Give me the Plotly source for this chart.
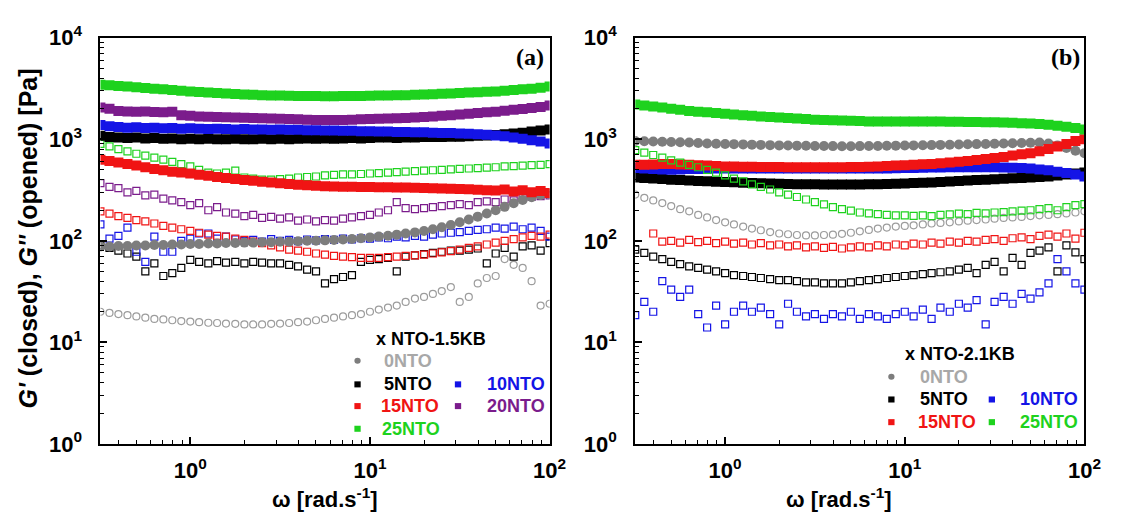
import plotly.graph_objects as go

W, H = 1130, 523

# angular frequency sweep [rad/s]
omega = [0.316, 0.355, 0.398, 0.447, 0.501, 0.562, 0.631, 0.708, 0.794, 0.891,
         1.00, 1.12, 1.26, 1.41, 1.58, 1.78, 2.00, 2.24, 2.51, 2.82,
         3.16, 3.55, 3.98, 4.47, 5.01, 5.62, 6.31, 7.08, 7.94, 8.91,
         10.0, 11.2, 12.6, 14.1, 15.8, 17.8, 20.0, 22.4, 25.1, 28.2,
         31.6, 35.5, 39.8, 44.7, 50.1, 56.2, 63.1, 70.8, 79.4, 89.1,
         100.0]

# ---- (a) x NTO-1.5KB : storage modulus G' [Pa] ----
a_gp_0 = [88, 88, 89, 89, 90, 90, 91, 91, 92, 92,
          93, 93, 94, 94, 95, 95, 96, 96, 97, 97,
          98, 98, 99, 100, 100, 101, 102, 103, 104, 106,
          108, 110, 112, 115, 118, 121, 125, 130, 136, 143,
          152, 162, 173, 186, 200, 216, 234, 252, 268, 282,
          290]
a_gp_5 = [1080, 1050, 1040, 1030, 1040, 1020, 1030, 1010, 1020, 1000,
          1010, 1000, 1010, 1000, 1000, 1010, 1000, 1000, 1010, 1000,
          1010, 1000, 1010, 1020, 1010, 1020, 1010, 1020, 1030, 1020,
          1030, 1040, 1040, 1030, 1040, 1040, 1050, 1050, 1050, 1060,
          1060, 1070, 1080, 1090, 1100, 1120, 1140, 1160, 1190, 1220,
          1250]
a_gp_10 = [1380, 1340, 1320, 1300, 1310, 1290, 1300, 1280, 1290, 1270,
           1280, 1270, 1260, 1270, 1260, 1250, 1260, 1250, 1250, 1240,
           1250, 1240, 1240, 1230, 1230, 1220, 1220, 1210, 1210, 1200,
           1200, 1190, 1190, 1180, 1180, 1170, 1170, 1160, 1150, 1150,
           1140, 1130, 1120, 1110, 1090, 1070, 1040, 1010, 980, 950,
           910]
a_gp_15 = [630, 610, 590, 570, 550, 530, 510, 495, 480, 470,
           460, 448, 436, 425, 415, 405, 398, 390, 382, 375,
           368, 362, 357, 352, 348, 345, 343, 341, 340, 339,
           338, 337, 336, 335, 334, 333, 332, 330, 328, 326,
           324, 322, 318, 315, 312, 320, 305, 315, 300, 310,
           295]
a_gp_20 = [2050, 2000, 1900, 1880, 1870, 1880, 1860, 1850, 1870, 1720,
           1700, 1680, 1670, 1660, 1650, 1640, 1630, 1620, 1610, 1600,
           1590, 1580, 1570, 1560, 1550, 1550, 1550, 1550, 1560, 1570,
           1580, 1590, 1600, 1610, 1620, 1640, 1660, 1680, 1700, 1720,
           1750, 1780, 1810, 1840, 1870, 1910, 1950, 1990, 2030, 2080,
           2150]
a_gp_25 = [3450, 3400, 3350, 3300, 3250, 3200, 3150, 3100, 3050, 3000,
           2960, 2920, 2880, 2850, 2820, 2790, 2760, 2740, 2720, 2700,
           2690, 2680, 2670, 2660, 2660, 2650, 2650, 2660, 2660, 2670,
           2680, 2690, 2700, 2710, 2720, 2740, 2760, 2780, 2800, 2820,
           2850, 2880, 2900, 2930, 2960, 3000, 3050, 3100, 3150, 3220,
           3300]

# ---- (a) x NTO-1.5KB : loss modulus G'' [Pa] ----
a_gpp_0 = [20, 19.5, 19, 18.5, 18, 17.5, 17, 16.8, 16.5, 16.2,
           16, 15.8, 15.6, 15.5, 15.3, 15.2, 15.0, 15.0, 15.0, 15.2,
           15.3, 15.5, 15.8, 16, 16.5, 17, 17.5, 18, 18.5, 19,
           20, 21, 22, 23, 25, 27, 28, 30, 32, 35,
           25, 28, 38, 43, 45, 66, 58, 54, 40, 23,
           24]
a_gpp_5 = [90, 85, 80, 75, 70, 50, 60, 45, 48, 54,
           65, 62, 60, 63, 61, 62, 60, 62, 61, 60,
           60, 58, 56, 52, 50, 38, 42, 44, 46, 62,
           65, 66, 68, 50, 70, 72, 74, 76, 78, 80,
           80, 82, 84, 60, 75, 85, 70, 88, 90, 80,
           95]
a_gpp_10 = [145, 105, 112, 135, 78, 62, 110, 78, 78, 100,
            105, 118, 118, 105, 110, 103, 100, 102, 98, 104,
            100, 102, 99, 103, 101, 104, 102, 105, 103, 106,
            105, 108, 106, 110, 108, 112, 110, 115, 118, 120,
            122, 125, 128, 130, 135, 132, 138, 130, 135, 125,
            110]
a_gpp_15 = [195, 185, 175, 168, 160, 155, 148, 140, 135, 130,
            125, 120, 115, 112, 110, 105, 102, 98, 95, 90,
            86, 82, 80, 78, 75, 73, 71, 70, 69, 68,
            68, 68, 69, 70, 71, 72, 73, 75, 77, 79,
            82, 85, 88, 92, 96, 100, 104, 108, 112, 110,
            115]
a_gpp_20 = [370, 340, 330, 300, 310, 280, 285, 260, 250, 240,
            225, 235, 200, 215, 190, 185, 175, 180, 168, 172,
            165, 170, 158, 162, 155, 160, 158, 165, 170, 175,
            180, 190, 200, 240, 210, 205, 210, 215, 220, 225,
            230, 225, 240, 245, 240, 255, 250, 265, 270, 275,
            280]
a_gpp_25 = [900, 850, 800, 760, 720, 690, 660, 630, 600, 570,
            540, 500, 470, 460, 470, 490, 420, 410, 400, 400,
            405, 410, 420, 425, 430, 440, 445, 450, 450, 455,
            460, 465, 470, 475, 480, 485, 490, 495, 500, 505,
            510, 515, 520, 525, 530, 540, 545, 550, 555, 560,
            570]

# ---- (b) x NTO-2.1KB : storage modulus G' [Pa] ----
b_gp_0 = [960, 955, 950, 945, 940, 935, 930, 920, 910, 905,
          900, 895, 890, 885, 880, 875, 870, 868, 865, 862,
          860, 858, 856, 855, 855, 856, 858, 860, 862, 865,
          868, 870, 873, 876, 880, 884, 888, 892, 896, 900,
          905, 910, 915, 920, 925, 930, 910, 870, 820, 770,
          730]
b_gp_5 = [420, 415, 410, 405, 400, 396, 392, 388, 385, 382,
          380, 377, 374, 371, 368, 366, 364, 362, 361, 360,
          360, 359, 359, 358, 358, 359, 360, 361, 363, 365,
          367, 370, 373, 376, 380, 384, 388, 392, 396, 400,
          404, 408, 412, 416, 420, 425, 430, 440, 450, 460,
          470]
b_gp_10 = [520, 515, 510, 505, 500, 505, 510, 510, 515, 515,
           515, 515, 515, 515, 515, 515, 515, 515, 515, 515,
           515, 515, 515, 515, 515, 515, 515, 515, 515, 518,
           520, 522, 524, 526, 528, 530, 530, 530, 530, 530,
           530, 528, 525, 520, 515, 505, 495, 480, 465, 450,
           430]
b_gp_15 = [560, 560, 565, 570, 570, 565, 560, 555, 550, 545,
           540, 538, 536, 535, 534, 533, 532, 531, 530, 530,
           530, 530, 530, 531, 532, 534, 536, 540, 545, 550,
           555, 560, 566, 572, 580, 590, 600, 612, 625, 640,
           655, 670, 690, 710, 730, 760, 800, 850, 900, 960,
           1000]
b_gp_25 = [2200, 2150, 2100, 2050, 2000, 1950, 1900, 1870, 1840, 1810,
           1780, 1750, 1720, 1700, 1680, 1660, 1640, 1620, 1600, 1580,
           1560, 1550, 1540, 1530, 1520, 1510, 1500, 1500, 1500, 1500,
           1500, 1500, 1500, 1500, 1500, 1490, 1490, 1480, 1480, 1470,
           1470, 1460, 1450, 1440, 1430, 1410, 1390, 1360, 1330, 1290,
           1250]

# ---- (b) x NTO-2.1KB : loss modulus G'' [Pa] ----
b_gpp_0 = [285, 265, 250, 235, 220, 205, 195, 180, 170, 160,
           152, 145, 138, 132, 127, 122, 118, 116, 114, 113,
           113, 114, 115, 117, 120, 124, 128, 132, 135, 138,
           140, 142, 145, 148, 150, 152, 155, 158, 160, 162,
           165, 168, 170, 172, 175, 178, 180, 183, 186, 190,
           195]
b_gpp_5 = [82, 76, 70, 66, 62, 59, 56, 54, 52, 50,
           48, 46, 45, 44, 43, 42, 41, 41, 40, 39,
           39, 38, 38, 38, 39, 40, 41, 42, 43, 44,
           45, 46, 47, 48, 49, 50, 52, 54, 48, 58,
           62, 50, 68, 58, 76, 80, 86, 50, 90, 77,
           66]
b_gpp_10 = [18.5, 25, 20, 40, 33, 28, 33, 19, 14, 23,
            15, 20, 23, 20, 22, 19, 15, 24, 20, 18,
            19, 17, 19, 18, 20, 17, 19, 18, 17, 19,
            20, 18, 21, 17, 22, 20, 24, 22, 26, 15,
            25, 28, 24, 30, 27, 31, 38, 66, 50, 38,
            33]
b_gpp_15 = [None, None, 118, 98, 100, 96, 102, 97, 100, 95,
            98, 94, 96, 92, 95, 90, 92, 88, 90, 86,
            88, 85, 87, 84, 86, 88, 86, 90, 88, 92,
            90, 94, 92, 96, 94, 98, 96, 100, 98, 102,
            104, 100, 106, 108, 104, 112, 115, 110, 118, 105,
            120]
b_gpp_25 = [780, 740, 700, 660, 620, 590, 560, 530, 500, 470,
            440, 410, 385, 360, 340, 320, 300, 285, 270, 255,
            240, 228, 215, 205, 198, 190, 186, 183, 180, 178,
            178, 176, 178, 175, 180, 182, 185, 183, 188, 186,
            190, 192, 195, 198, 200, 205, 210, 200, 215, 225,
            230]

# sample colours
C_GREY = "#7d7d7d"
C_GREY_OPEN = "#9c9c9c"
C_BLACK = "#000000"
C_BLUE = "#1414e6"
C_RED = "#f01414"
C_PURPLE = "#7b1c8c"
C_GREEN = "#1ed21e"

FONT = "Liberation Sans, Arial, sans-serif"

fig = go.Figure()


def add_series(xa, ya, y, color, filled, circle=False):
    if filled:
        marker = dict(symbol="circle" if circle else "square", size=10,
                      color=color, line=dict(width=0))
    else:
        marker = dict(symbol="circle-open" if circle else "square-open", size=7,
                      color=color, line=dict(width=1.2, color=color))
    fig.add_trace(go.Scatter(x=omega, y=y, mode="markers", marker=marker,
                             xaxis=xa, yaxis=ya, showlegend=False, hoverinfo="skip"))


# panel (a): loss moduli first, storage moduli on top
add_series("x", "y", a_gpp_0, C_GREY_OPEN, False, circle=True)
add_series("x", "y", a_gpp_5, C_BLACK, False)
add_series("x", "y", a_gpp_10, C_BLUE, False)
add_series("x", "y", a_gpp_15, C_RED, False)
add_series("x", "y", a_gpp_20, C_PURPLE, False)
add_series("x", "y", a_gpp_25, C_GREEN, False)
add_series("x", "y", a_gp_0, C_GREY, True, circle=True)
add_series("x", "y", a_gp_5, C_BLACK, True)
add_series("x", "y", a_gp_10, C_BLUE, True)
add_series("x", "y", a_gp_15, C_RED, True)
add_series("x", "y", a_gp_20, C_PURPLE, True)
add_series("x", "y", a_gp_25, C_GREEN, True)

# panel (b): storage moduli first, loss moduli on top
add_series("x2", "y2", b_gp_0, C_GREY, True, circle=True)
add_series("x2", "y2", b_gp_5, C_BLACK, True)
add_series("x2", "y2", b_gp_10, C_BLUE, True)
add_series("x2", "y2", b_gp_15, C_RED, True)
add_series("x2", "y2", b_gp_25, C_GREEN, True)
add_series("x2", "y2", b_gpp_0, C_GREY_OPEN, False, circle=True)
add_series("x2", "y2", b_gpp_5, C_BLACK, False)
add_series("x2", "y2", b_gpp_10, C_BLUE, False)
add_series("x2", "y2", b_gpp_15, C_RED, False)
add_series("x2", "y2", b_gpp_25, C_GREEN, False)


def px_x(x):
    return x / W


def px_y(y):
    return 1 - y / H


major = [1, 10, 100, 1000, 10000]
major_text = ["10<sup>0</sup>", "10<sup>1</sup>", "10<sup>2</sup>",
              "10<sup>3</sup>", "10<sup>4</sup>"]
minor_vals = [m * 10 ** e for e in range(-1, 4) for m in range(2, 10)]

tickfont = dict(family=FONT, size=22, color="black", weight="bold")

axis_common = dict(type="log", showgrid=False, zeroline=False,
                   showline=True, linecolor="black", linewidth=2, mirror=True,
                   ticks="inside", ticklen=7, tickwidth=1.5, tickcolor="black",
                   tickmode="array", tickvals=major, ticktext=major_text,
                   tickfont=tickfont,
                   minor=dict(ticks="inside", ticklen=4, tickwidth=1.2,
                              tickcolor="black", tickmode="array",
                              tickvals=minor_vals, showgrid=False))

ydom = [px_y(453), px_y(23)]
fig.update_layout(
    xaxis=dict(axis_common, domain=[px_x(102), px_x(558)], range=[-0.5, 2.0],
               anchor="y", ticklabelstandoff=6),
    yaxis=dict(axis_common, domain=ydom, range=[0, 4], anchor="x",
               ticklabelstandoff=12),
    xaxis2=dict(axis_common, domain=[px_x(645), px_x(1101)], range=[-0.5, 2.0],
                anchor="y2", ticklabelstandoff=6),
    yaxis2=dict(axis_common, domain=ydom, range=[0, 4], anchor="x2",
                ticklabelstandoff=12),
    width=W, height=H,
    margin=dict(l=0, r=0, t=0, b=0),
    paper_bgcolor="white", plot_bgcolor="white",
)

annotations = []
shapes = []


def text(x, y, s, size, color="black", xanchor="left", family=FONT, angle=0):
    annotations.append(dict(x=px_x(x), y=px_y(y), xref="paper", yref="paper",
                            text=s, showarrow=False, xanchor=xanchor, yanchor="middle",
                            textangle=angle,
                            font=dict(family=family, size=size, color=color, weight="bold")))


def legend_marker(x, y, color, circle=False):
    r = 3.2
    shapes.append(dict(type="circle" if circle else "rect", xref="paper", yref="paper",
                       x0=px_x(x - r), x1=px_x(x + r), y0=px_y(y + r), y1=px_y(y - r),
                       fillcolor=color, line=dict(width=0)))


# axis titles
text(28, 236, "<i>G'</i> (closed), <i>G''</i> (opened) [Pa]", 25, xanchor="center", angle=-90)
text(330, 510, "\u03c9 [rad.s<sup>-1</sup>]", 22, xanchor="center")
text(852, 510, "\u03c9 [rad.s<sup>-1</sup>]", 22, xanchor="center")

# panel labels
text(554, 43, "(a)", 24, xanchor="right", family="Liberation Serif, Times New Roman, serif")
text(1099, 43, "(b)", 24, xanchor="right", family="Liberation Serif, Times New Roman, serif")

LEG = 18
# legend of panel (a)
text(380, 342, "x NTO-1.5KB", LEG)
legend_marker(363, 365, C_GREY, circle=True)
text(388, 365, "0NTO", LEG, color="#a8a8a8")
legend_marker(363, 390, C_BLACK)
text(388, 390, "5NTO", LEG, color=C_BLACK)
legend_marker(465, 390, C_BLUE)
text(492, 390, "10NTO", LEG, color=C_BLUE)
legend_marker(363, 413, C_RED)
text(385, 413, "15NTO", LEG, color=C_RED)
legend_marker(465, 413, C_PURPLE)
text(492, 413, "20NTO", LEG, color=C_PURPLE)
legend_marker(363, 437, C_GREEN)
text(386, 437, "25NTO", LEG, color=C_GREEN)

# legend of panel (b)
text(917, 358, "x NTO-2.1KB", LEG)
legend_marker(905, 382, C_GREY, circle=True)
text(932, 382, "0NTO", LEG, color="#a8a8a8")
legend_marker(905, 406, C_BLACK)
text(932, 406, "5NTO", LEG, color=C_BLACK)
legend_marker(1007, 406, C_BLUE)
text(1034, 406, "10NTO", LEG, color=C_BLUE)
legend_marker(905, 430, C_RED)
text(930, 430, "15NTO", LEG, color=C_RED)
legend_marker(1007, 430, C_GREEN)
text(1034, 430, "25NTO", LEG, color=C_GREEN)

fig.update_layout(annotations=annotations, shapes=shapes)

fig.write_html("out.html")
